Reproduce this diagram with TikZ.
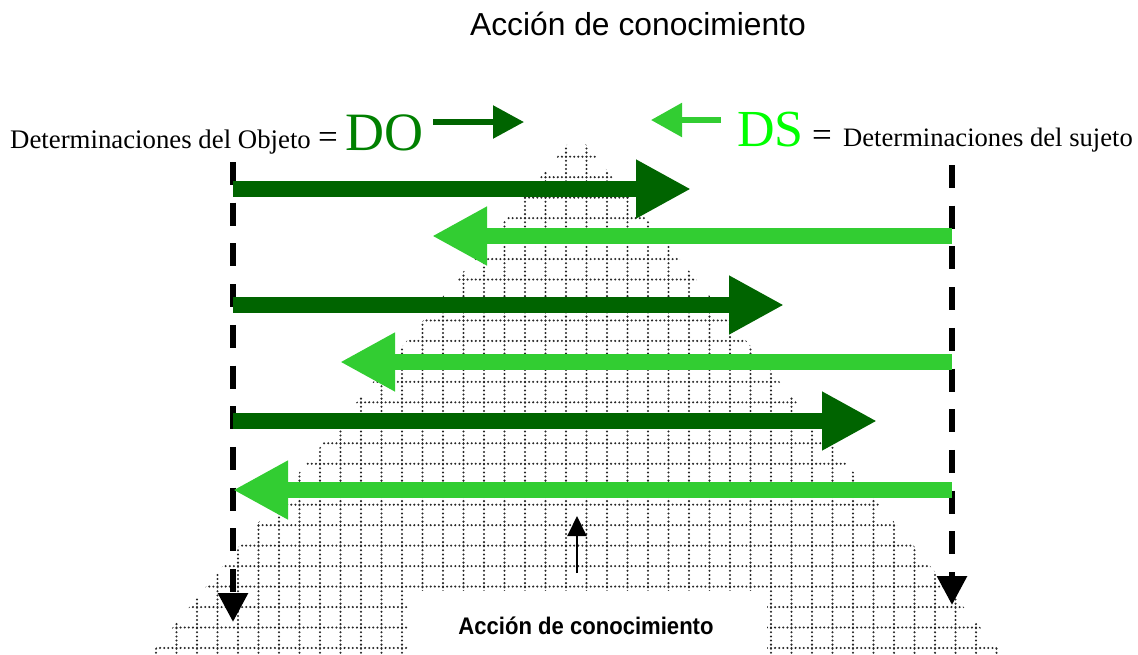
\documentclass[tikz,border=0pt]{standalone}
\usepackage{fontspec}
\setmainfont{Liberation Serif}
\newfontfamily\arialf{Liberation Sans}
\usetikzlibrary{arrows.meta}
\definecolor{dkg}{RGB}{0,100,0}
\definecolor{ltg}{RGB}{50,205,50}
\definecolor{dog}{RGB}{0,128,0}
\definecolor{dsg}{RGB}{0,255,0}
\begin{document}
\begin{tikzpicture}[x=1pt,y=-1pt,
  gridline/.style={line width=2.3pt, black!85, line cap=round, dash pattern=on 0pt off 4.1pt},
  darrow/.style={line width=16pt, dkg, -{Triangle[length=55pt,width=55pt]}},
  larrow/.style={line width=16pt, ltg, -{Triangle[length=55pt,width=55pt]}},
  vdash/.style={line width=6pt, black, dash pattern=on 23pt off 17.7pt, -{Triangle[length=29pt,width=29pt]}},
  lbl/.style={inner sep=0pt, anchor=base west}]
\useasboundingbox (0,0) rectangle (1138,654);
% dotted pyramid
\begin{scope}
\clip (576.5,133) -- (151,654) -- (1002,654) -- cycle;
\foreach \k in {0,...,24} \draw[gridline] (156,{156.7+20.47*\k}) -- (1000,{156.7+20.47*\k});
\foreach \j in {-20,...,21} \draw[gridline] ({566+20.5*\j},136.23) -- ({566+20.5*\j},654);
\end{scope}
\fill[white] (408,591) rectangle (767,655);
% texts
\node[anchor=base, inner sep=0pt] (title) at (638,35) {\arialf\fontsize{31.8}{36}\selectfont Acción de conocimiento};
\node[lbl] (lt) at (10,148) {\fontsize{26.8}{30}\selectfont Determinaciones del Objeto};
\node[lbl] (eq1) at (318,148) {\fontsize{35}{40}\selectfont =};
\node[lbl] (do) at (345,150) {\color{dog}\fontsize{54}{60}\selectfont DO};
\node[lbl] (ds) at (737,146) {\color{dsg}\fontsize{52}{60}\selectfont DS};
\node[lbl] (eq2) at (812,146) {\fontsize{35}{40}\selectfont =};
\node[lbl] (rt) at (843,146) {\fontsize{26.6}{30}\selectfont Determinaciones del sujeto};
\node[anchor=base, inner sep=0pt, xscale=0.92] (bot) at (586,634) {\arialf\bfseries\fontsize{24}{28}\selectfont Acción de conocimiento};
% coordinates
\coordinate (dos) at (433,122); \coordinate (doe) at (524,122);
\coordinate (dss) at (721,120); \coordinate (dse) at (651,120);
\coordinate (lv1) at (233,162); \coordinate (lv2) at (233,622);
\coordinate (rv1) at (952,165); \coordinate (rv2) at (952,605);
\coordinate (a1s) at (233,189); \coordinate (a1e) at (691,189);
\coordinate (b1s) at (952,236); \coordinate (b1e) at (432,236);
\coordinate (a2s) at (233,305); \coordinate (a2e) at (784,305);
\coordinate (b2s) at (952,362); \coordinate (b2e) at (340,362);
\coordinate (a3s) at (233,421); \coordinate (a3e) at (877,421);
\coordinate (b3s) at (952,490); \coordinate (b3e) at (233,490);
\coordinate (us) at (577,573); \coordinate (ue) at (577,516);
% top small arrows
\draw[line width=5.5pt, dkg, -{Triangle[length=31pt,width=32pt]}] (dos) -- (doe);
\draw[line width=5.5pt, ltg, -{Triangle[length=31pt,width=33pt]}] (dss) -- (dse);
% dashed verticals
\draw[vdash] (lv1) -- (lv2);
\draw[vdash] (rv1) -- (rv2);
% horizontal arrows
\draw[darrow] (a1s) -- (a1e);
\draw[larrow] (b1s) -- (b1e);
\draw[darrow] (a2s) -- (a2e);
\draw[larrow] (b2s) -- (b2e);
\draw[darrow] (a3s) -- (a3e);
\draw[larrow] (b3s) -- (b3e);
% up arrow
\draw[line width=2pt, black, -{Triangle[length=20pt,width=19pt]}] (us) -- (ue);
\end{tikzpicture}
\end{document}
